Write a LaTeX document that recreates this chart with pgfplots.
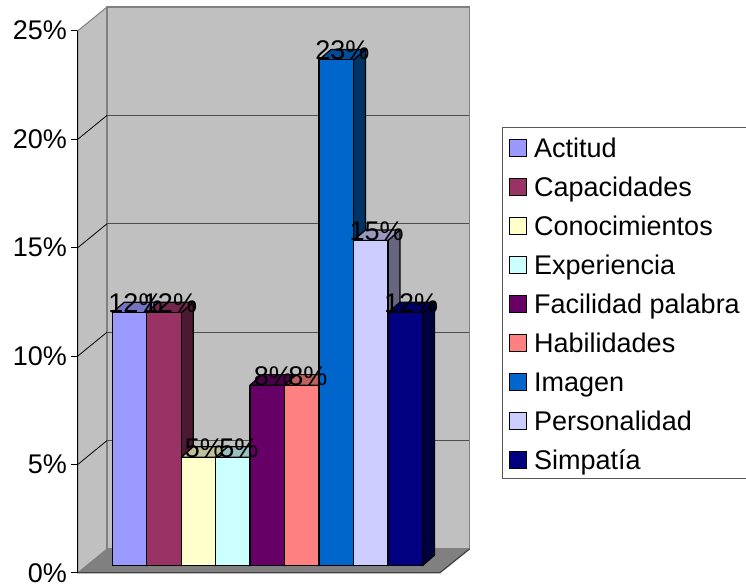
\documentclass[border=0pt]{standalone}
\usepackage{fontspec}
\setmainfont{Liberation Sans}
\usepackage{pgfplots}
\pgfplotsset{compat=1.18}

\definecolor{wall}{HTML}{C0C0C0}
\definecolor{floorgrey}{HTML}{808080}
\definecolor{gridgrey}{HTML}{4D4D4D}
\definecolor{cA}{HTML}{9999FF}
\definecolor{cB}{HTML}{993366}
\definecolor{cC}{HTML}{FFFFCC}
\definecolor{cD}{HTML}{CCFFFF}
\definecolor{cE}{HTML}{660066}
\definecolor{cF}{HTML}{FF8080}
\definecolor{cG}{HTML}{0066CC}
\definecolor{cH}{HTML}{CCCCFF}
\definecolor{cI}{HTML}{000080}

% Half the bar width, and the oblique offset of a bar's back face
\newcommand{\halfw}{17.23}
\newcommand{\depthx}{12}
\newcommand{\depthy}{0.484}

% One bar: centre on the x scale, value in percent, colour, legend text
\newcommand{\threedbar}[4]{%
  \pgfmathsetmacro{\xl}{#1-\halfw}%
  \pgfmathsetmacro{\xr}{#1+\halfw}%
  \pgfmathsetmacro{\xlb}{\xl+\depthx}%
  \pgfmathsetmacro{\xrb}{\xr+\depthx}%
  \pgfmathsetmacro{\yb}{#2+\depthy}%
  \addplot[forget plot, fill=#3!50!black, draw=black, line width=1.2pt, line join=round]
    coordinates {(\xr,0) (\xrb,\depthy) (\xrb,\yb) (\xr,#2)} --cycle;
  \addplot[forget plot, fill=#3!75!black, draw=black, line width=1.2pt, line join=round]
    coordinates {(\xl,#2) (\xlb,\yb) (\xrb,\yb) (\xr,#2)} --cycle;
  \addplot[ybar, bar width=34.46, bar shift=0pt, fill=#3, draw=black, line width=1.2pt,
    legend image code/.code={\draw[fill=#3, draw=black, line width=1.2pt]
      (0pt,0.5pt) rectangle (17pt,17.5pt);}]
    coordinates {(#1,#2)};
  \addlegendentry{#4}%
}

\begin{document}
\begin{tikzpicture}
\path[use as bounding box] (-78pt,0pt) rectangle (668pt,586pt);
\begin{axis}[
  scale only axis,
  width=668pt, height=586pt,
  xmin=78, xmax=746,
  ymin=-0.936, ymax=26.093,
  clip=false,
  axis lines=left,
  axis line style={draw=none},
  xtick=\empty,
  ytick={-0.323,4.677,9.677,14.677,19.677,24.677},
  yticklabels={0\%,5\%,10\%,15\%,20\%,25\%},
  tick align=outside,
  major tick length=7pt,
  tick style={black, line width=0.8pt},
  tick label style={font=\fontsize{27}{32}\selectfont, inner sep=0pt},
  yticklabel style={xshift=-4pt},
  legend cell align=left,
  legend style={
    at={(axis cs:501.5,20.235)}, anchor=north west,
    draw=black!65, line width=1pt, fill=white,
    font=\fontsize{27}{32}\selectfont,
    inner xsep=7pt, inner ysep=0pt,
    row sep=0pt,
    /tikz/every even column/.append style={column sep=0pt},
    nodes={inner xsep=7pt, inner ysep=0pt, text height=29.5pt, text depth=9.5pt, anchor=base west},
  },
]
% Side wall, back wall and floor
\addplot[forget plot, fill=wall, draw=floorgrey, line width=1pt]
  coordinates {(78,-0.323) (78,24.677) (107,25.77) (107,0.77)} --cycle;
\addplot[forget plot, fill=wall, draw=floorgrey, line width=1.2pt]
  coordinates {(107,0.77) (107,25.77) (469.5,25.77) (469.5,0.77)} --cycle;
\addplot[forget plot, fill=floorgrey, draw=none]
  coordinates {(78,-0.323) (107,0.77) (469.5,0.77) (440,-0.323)} --cycle;
\addplot[forget plot, black!75, line width=1.2pt]
  coordinates {(78,-0.323) (440,-0.323) (469.5,0.77)};

% Gridlines on the back wall and their continuation on the side wall
\addplot[forget plot, gridgrey, line width=1.2pt] coordinates {(107,5.77) (469,5.77)};
\addplot[forget plot, gridgrey, line width=1.2pt] coordinates {(107,10.77) (469,10.77)};
\addplot[forget plot, gridgrey, line width=1.2pt] coordinates {(107,15.77) (469,15.77)};
\addplot[forget plot, gridgrey, line width=1.2pt] coordinates {(107,20.77) (469,20.77)};
\addplot[forget plot, black, line width=0.8pt] coordinates {(78,4.677) (107,5.77)};
\addplot[forget plot, black, line width=0.8pt] coordinates {(78,9.677) (107,10.77)};
\addplot[forget plot, black, line width=0.8pt] coordinates {(78,14.677) (107,15.77)};
\addplot[forget plot, black, line width=0.8pt] coordinates {(78,19.677) (107,20.77)};

% Value axis line
\addplot[forget plot, black, line width=1pt] coordinates {(78,-0.323) (78,24.677)};

% Bars
\threedbar{129.5}{11.67}{cA}{Actitud}
\threedbar{164.0}{11.67}{cB}{Capacidades}
\threedbar{198.4}{5}{cC}{Conocimientos}
\threedbar{232.9}{5}{cD}{Experiencia}
\threedbar{267.3}{8.33}{cE}{Facilidad palabra}
\threedbar{301.8}{8.33}{cF}{Habilidades}
\threedbar{336.3}{23.33}{cG}{Imagen}
\threedbar{370.7}{15}{cH}{Personalidad}
\threedbar{405.2}{11.67}{cI}{Simpatía}

% Value labels, set last so that they lie above every bar
\addplot[forget plot, draw=none, mark=none, point meta=y,
  nodes near coords={\pgfmathprintnumber[fixed, precision=0, /pgf/number format/assume math mode=true]{\pgfplotspointmeta}\%},
  every node near coord/.style={anchor=base, inner sep=0pt, xshift=6pt, font=\fontsize{27}{32}\selectfont, black},
] coordinates {
  (129.5,11.67) (164.0,11.67) (198.4,5) (232.9,5) (267.3,8.33)
  (301.8,8.33) (336.3,23.33) (370.7,15) (405.2,11.67)
};
\end{axis}
\end{tikzpicture}
\end{document}
